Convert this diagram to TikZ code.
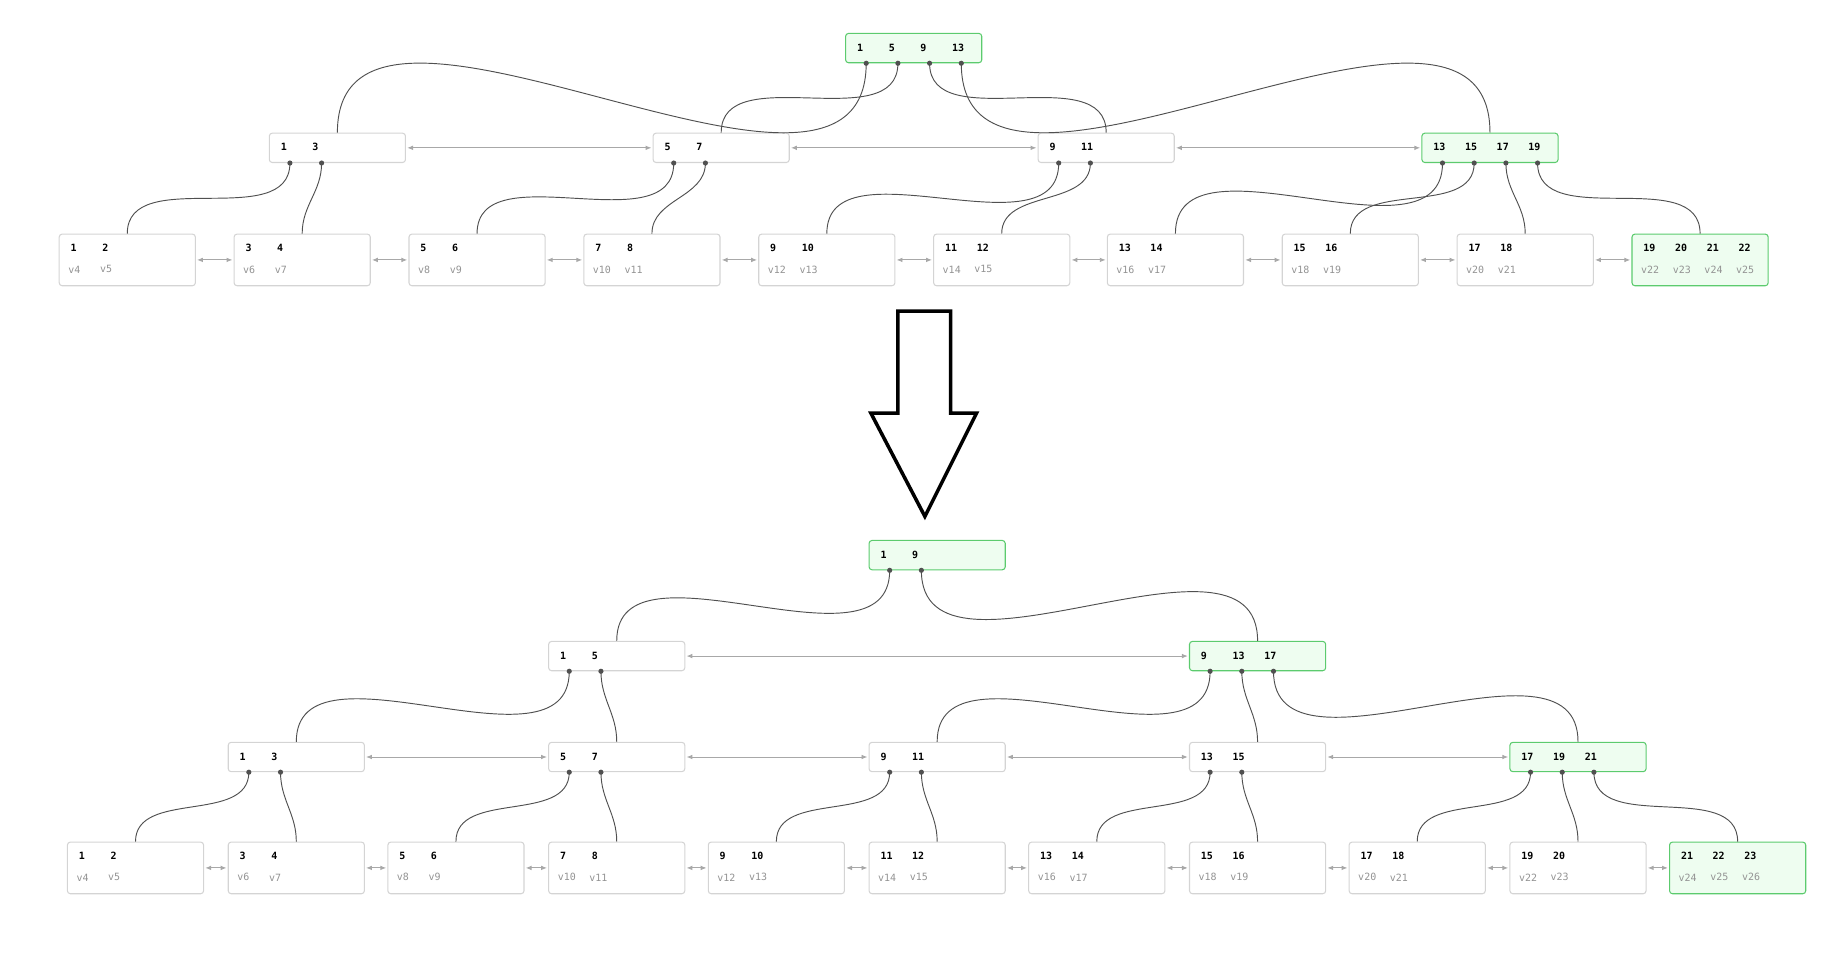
\documentclass[tikz,border=0pt]{standalone}
\usepackage{fontspec}
\setmonofont{DejaVu Sans Mono}
\usetikzlibrary{calc,arrows.meta}
\definecolor{gfill}{HTML}{EEFDF0}
\definecolor{gline}{HTML}{5CCB6E}
\definecolor{bline}{HTML}{D4D4D4}
\definecolor{sibc}{HTML}{A8A8A8}
\definecolor{conc}{HTML}{505050}
\tikzset{
 plainbox/.style={draw=bline, fill=white, rounded corners=2.5pt, line width=0.9pt, inner sep=0pt, minimum width=116pt},
 greenbox/.style={draw=gline, fill=gfill, rounded corners=2.5pt, line width=0.9pt, inner sep=0pt, minimum width=116pt},
 keyt/.style={font=\ttfamily\bfseries\fontsize{8.5}{10}\selectfont, text=black, inner sep=0pt, anchor=west},
 valt/.style={font=\ttfamily\fontsize{8.5}{10}\selectfont, text=gray!85, inner sep=0pt, anchor=west},
 conn/.style={draw=conc, line width=0.8pt},
 sib/.style={draw=sibc, line width=0.8pt, {Latex[length=5pt,width=4pt]}-{Latex[length=5pt,width=4pt]}, shorten <=1pt, shorten >=1pt},
}
% name, x, y, style, keys
\newcommand\inbox[5]{%
 \node[#4, minimum height=25pt, anchor=north west] (#1) at (#2,#3) {};
 \foreach \k [count=\i from 0] in {#5} {
  \node[keyt] at ($(#1.north west)+(10+27*\i,12.5)$) {\k};
  \coordinate (#1-d\i) at ($(#1.south west)+(18+27*\i,0)$);
  \fill[conc] (#1-d\i) circle (2.2pt);
 }}
% name, x, y, style, keys, vals
\newcommand\leafbox[6]{%
 \node[#4, minimum height=44pt, anchor=north west] (#1) at (#2,#3) {};
 \foreach \k [count=\i from 0] in {#5} {
  \node[keyt] at ($(#1.north west)+(10+27*\i,12.5)$) {\k};}
 \foreach \k [count=\i from 0] in {#6} {
  \node[valt] at ($(#1.north west)+(8+27*\i,30.5)$) {\k};}
}
\newcommand\link[2]{\draw[conn] (#1) to[out=-90,in=90] (#2.north);}
\begin{document}
\begin{tikzpicture}[x=1pt,y=-1pt]
\useasboundingbox (0,0) rectangle (1560,822);
% ---------- top tree ----------
\inbox{R}{720}{28}{greenbox}{1,5,9,13}
\inbox{A}{229}{113}{plainbox}{1,3}
\inbox{B}{556}{113}{plainbox}{5,7}
\inbox{C}{884}{113}{plainbox}{9,11}
\inbox{D}{1211}{113}{greenbox}{13,15,17,19}
\leafbox{L1}{50}{199}{plainbox}{1,2}{v4,v5}
\leafbox{L2}{199}{199}{plainbox}{3,4}{v6,v7}
\leafbox{L3}{348}{199}{plainbox}{5,6}{v8,v9}
\leafbox{L4}{497}{199}{plainbox}{7,8}{v10,v11}
\leafbox{L5}{646}{199}{plainbox}{9,10}{v12,v13}
\leafbox{L6}{795}{199}{plainbox}{11,12}{v14,v15}
\leafbox{L7}{943}{199}{plainbox}{13,14}{v16,v17}
\leafbox{L8}{1092}{199}{plainbox}{15,16}{v18,v19}
\leafbox{L9}{1241}{199}{plainbox}{17,18}{v20,v21}
\leafbox{L10}{1390}{199}{greenbox}{19,20,21,22}{v22,v23,v24,v25}
\link{R-d0}{A}\link{R-d1}{B}\link{R-d2}{C}\link{R-d3}{D}
\link{A-d0}{L1}\link{A-d1}{L2}
\link{B-d0}{L3}\link{B-d1}{L4}
\link{C-d0}{L5}\link{C-d1}{L6}
\link{D-d0}{L7}\link{D-d1}{L8}\link{D-d2}{L9}\link{D-d3}{L10}
\draw[sib] (A.east) -- (B.west);
\draw[sib] (B.east) -- (C.west);
\draw[sib] (C.east) -- (D.west);
\foreach \a/\b in {L1/L2,L2/L3,L3/L4,L4/L5,L5/L6,L6/L7,L7/L8,L8/L9,L9/L10}
 \draw[sib] (\a.east) -- (\b.west);
% ---------- big arrow ----------
\draw[line width=3pt, line join=miter, miter limit=10] (765,265) -- (810,265) -- (810,352) -- (832,352) -- (788,440) -- (742,352) -- (765,352) -- cycle;
% ---------- bottom tree ----------
\inbox{S}{740}{460}{greenbox}{1,9}
\inbox{E}{467}{546}{plainbox}{1,5}
\inbox{F}{1013}{546}{greenbox}{9,13,17}
\inbox{G}{194}{632}{plainbox}{1,3}
\inbox{H}{467}{632}{plainbox}{5,7}
\inbox{I}{740}{632}{plainbox}{9,11}
\inbox{J}{1013}{632}{plainbox}{13,15}
\inbox{K}{1286}{632}{greenbox}{17,19,21}
\leafbox{M1}{57}{717}{plainbox}{1,2}{v4,v5}
\leafbox{M2}{194}{717}{plainbox}{3,4}{v6,v7}
\leafbox{M3}{330}{717}{plainbox}{5,6}{v8,v9}
\leafbox{M4}{467}{717}{plainbox}{7,8}{v10,v11}
\leafbox{M5}{603}{717}{plainbox}{9,10}{v12,v13}
\leafbox{M6}{740}{717}{plainbox}{11,12}{v14,v15}
\leafbox{M7}{876}{717}{plainbox}{13,14}{v16,v17}
\leafbox{M8}{1013}{717}{plainbox}{15,16}{v18,v19}
\leafbox{M9}{1149}{717}{plainbox}{17,18}{v20,v21}
\leafbox{M10}{1286}{717}{plainbox}{19,20}{v22,v23}
\leafbox{M11}{1422}{717}{greenbox}{21,22,23}{v24,v25,v26}
\link{S-d0}{E}\link{S-d1}{F}
\link{E-d0}{G}\link{E-d1}{H}
\link{F-d0}{I}\link{F-d1}{J}\link{F-d2}{K}
\link{G-d0}{M1}\link{G-d1}{M2}
\link{H-d0}{M3}\link{H-d1}{M4}
\link{I-d0}{M5}\link{I-d1}{M6}
\link{J-d0}{M7}\link{J-d1}{M8}
\link{K-d0}{M9}\link{K-d1}{M10}\link{K-d2}{M11}
\draw[sib] (E.east) -- (F.west);
\foreach \a/\b in {G/H,H/I,I/J,J/K}
 \draw[sib] (\a.east) -- (\b.west);
\foreach \a/\b in {M1/M2,M2/M3,M3/M4,M4/M5,M5/M6,M6/M7,M7/M8,M8/M9,M9/M10,M10/M11}
 \draw[sib] (\a.east) -- (\b.west);
\end{tikzpicture}
\end{document}
